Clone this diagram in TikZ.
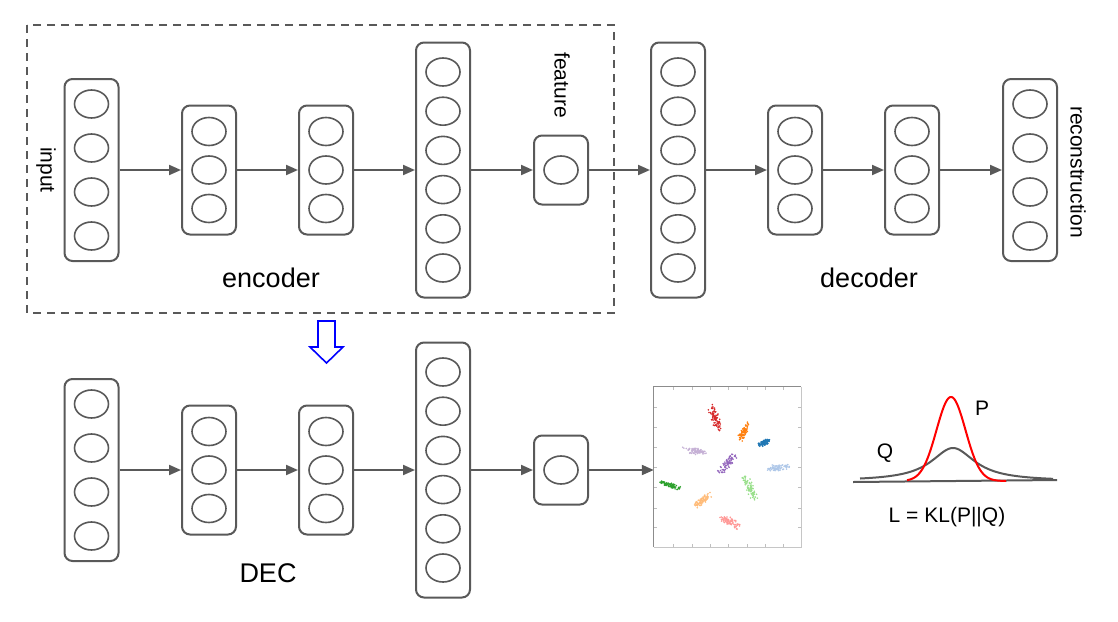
\documentclass[tikz,border=0pt]{standalone}
\usepackage{fontspec}
\setmainfont{Liberation Sans}
\usetikzlibrary{arrows.meta,shapes.geometric}
\definecolor{lc}{HTML}{595959}
\definecolor{cRed}{HTML}{D62728}
\definecolor{cOrange}{HTML}{FF7F0E}
\definecolor{cBlue}{HTML}{1F77B4}
\definecolor{cLPurple}{HTML}{C5B0D5}
\definecolor{cPurple}{HTML}{9467BD}
\definecolor{cLBlue}{HTML}{AEC7E8}
\definecolor{cGreen}{HTML}{2CA02C}
\definecolor{cLGreen}{HTML}{98DF8A}
\definecolor{cLOrange}{HTML}{FFBB78}
\definecolor{cPink}{HTML}{FF9896}
\tikzset{
  layerbox/.style={draw=lc, line width=2pt, rounded corners=8pt, minimum width=54pt, inner sep=0pt},
  unit/.style={draw=lc, line width=1.6pt, ellipse, minimum width=34pt, minimum height=28pt, inner sep=0pt},
  conn/.style={draw=lc, line width=2pt, -{Triangle[length=12pt,width=10pt]}},
  biglbl/.style={font=\fontsize{27}{31}\selectfont, inner sep=0pt},
  smalllbl/.style={font=\fontsize{21}{25}\selectfont, inner sep=0pt},
  curvegray/.style={draw=lc, line width=2pt},
}
\newcommand\mklayer[6]{% name, cx, cy, height, n, spacing
  \node[layerbox, minimum height=#4pt] (#1) at (#2,#3) {};
  \foreach \k in {1,...,#5} {
    \node[unit] (#1c\k) at (#2, {#3 + (\k - (#5+1)/2)*#6}) {};
  }
}
\begin{document}
\begin{tikzpicture}[x=1pt,y=-1pt]
\useasboundingbox (0,0) rectangle (1118,621);
% encoder frame
\draw[lc, line width=2pt, dash pattern=on 8pt off 6pt] (27,25) rectangle (614,313);
% top row
\mklayer{t1}{91.5}{170}{182}{4}{44}
\mklayer{t2}{209}{170}{129}{3}{38.5}
\mklayer{t3}{326}{170}{129}{3}{38.5}
\mklayer{t4}{443}{170}{255}{6}{39.2}
\mklayer{t5}{561}{170}{69}{1}{0}
\mklayer{t6}{678}{170}{255}{6}{39.2}
\mklayer{t7}{795}{170}{129}{3}{38.5}
\mklayer{t8}{912}{170}{129}{3}{38.5}
\mklayer{t9}{1030}{170}{182}{4}{44}
\foreach \a/\b in {t1/t2,t2/t3,t3/t4,t4/t5,t5/t6,t6/t7,t7/t8,t8/t9}
  \draw[conn] (\a.east) -- (\b.west);
% labels top
\node[smalllbl, rotate=-90] (linput) at (46,170) {input};
\node[smalllbl, rotate=-90] (lfeature) at (562,85) {feature};
\node[smalllbl, rotate=-90] (lrecon) at (1078,172) {reconstruction};
\node[biglbl, anchor=base] (lenc) at (271,287) {encoder};
\node[biglbl, anchor=base] (ldec) at (869,287) {decoder};
% blue arrow
\draw[blue, line width=1.6pt, line join=miter] (318,321) -- (335,321) -- (335,347) -- (343,347) -- (326.5,363) -- (310,347) -- (318,347) -- cycle;
% bottom row
\mklayer{b1}{91.5}{470}{182}{4}{44}
\mklayer{b2}{209}{470}{129}{3}{38.5}
\mklayer{b3}{326}{470}{129}{3}{38.5}
\mklayer{b4}{443}{470}{255}{6}{39.2}
\mklayer{b5}{561}{470}{69}{1}{0}
\foreach \a/\b in {b1/b2,b2/b3,b3/b4,b4/b5}
  \draw[conn] (\a.east) -- (\b.west);
\node[biglbl, anchor=base] (ldecl) at (268,582) {DEC};
% scatter plot
\node[minimum width=147pt, minimum height=160pt, inner sep=0pt] (scatter) at (727.5,467) {};
\draw[conn] (b5.east) -- (b5.east -| scatter.west);
\draw[gray!45, line width=1pt] (scatter.north east) -- (scatter.south east) -- (scatter.south west);
\draw[gray!90, line width=1pt] (scatter.south west) -- (scatter.north west) -- (scatter.north east);
\foreach \tx in {673,692,710,728,747,765,783} {
  \draw[gray!50, line width=0.6pt] (\tx,387) -- (\tx,390);
  \draw[gray!50, line width=0.6pt] (\tx,547) -- (\tx,544);
}
\foreach \ty in {407,427,447,467,487,508,527} {
  \draw[gray!50, line width=0.6pt] (654,\ty) -- (657,\ty);
  \draw[gray!50, line width=0.6pt] (801,\ty) -- (798,\ty);
}
\pgfmathsetseed{7}
\foreach \cx/\cy/\ang/\hl/\hw/\col in {
  715/417/72/13/4/cRed, 744/432/119/10/3/cOrange, 764/443/-27/6/2.5/cBlue,
  695/451/5/12/3/cLPurple, 728/463/-51/13/4/cPurple, 777/468/-5/11/3/cLBlue,
  670/485/18/10/2.5/cGreen, 750/488/62/12/4/cLGreen, 703/500/-39/10/3/cLOrange,
  730/522/28/10/4/cPink} {
  \foreach \i in {1,...,80} {
    \pgfmathsetmacro\u{(rand+rand)*0.6*\hl}
    \pgfmathsetmacro\v{(rand+rand)*0.6*\hw}
    \pgfmathsetmacro\px{\cx+\u*cos(\ang)-\v*sin(\ang)}
    \pgfmathsetmacro\py{\cy+\u*sin(\ang)+\v*cos(\ang)}
    \fill[\col] (\px,\py) circle[radius=0.9pt];
  }
}
% distributions
\draw[curvegray] (853,482) -- (1057,480);
\draw[curvegray] plot[domain=860:1053, samples=120] (\x,{481-33/(1+((\x-953)/26.6)^2)});
\draw[red, line width=2pt] plot[domain=907:1006, samples=120] (\x,{481-84*exp(-((\x-951)/14.5)^2/2)});
\node[smalllbl] (lP) at (982,408) {P};
\node[smalllbl] (lQ) at (885,453) {Q};
\node[smalllbl] (lL) at (947,517) {L = KL(P||Q)};
\end{tikzpicture}
\end{document}
